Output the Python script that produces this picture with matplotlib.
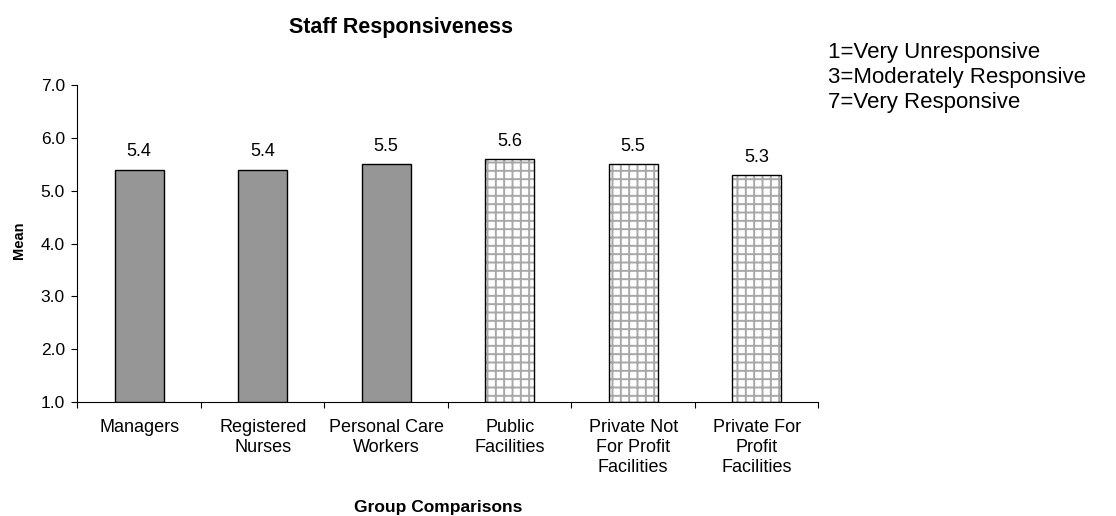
import matplotlib
matplotlib.use("Agg")
import matplotlib.pyplot as plt
import numpy as np

categories = ["Managers", "Registered\nNurses", "Personal Care\nWorkers",
              "Public\nFacilities", "Private Not\nFor Profit\nFacilities",
              "Private For\nProfit\nFacilities"]
values = [5.4, 5.4, 5.5, 5.6, 5.5, 5.3]
hatched = [False, False, False, True, True, True]
y_ticks = [1.0, 2.0, 3.0, 4.0, 5.0, 6.0, 7.0]
legend_lines = ["1=Very Unresponsive", "3=Moderately Responsive", "7=Very Responsive"]

plt.rcParams['font.family'] = ['Liberation Sans', 'DejaVu Sans']
plt.rcParams['hatch.linewidth'] = 1.4

fig = plt.figure(figsize=(11.16, 5.16), dpi=100)
ax = fig.add_axes([0.0694, 0.221, 0.664, 0.614])

x = np.arange(len(categories))
base = y_ticks[0]
w = 0.40
for xi, v, h in zip(x, values, hatched):
    if h:
        ax.bar(xi, v - base, bottom=base, width=w, color="white",
               edgecolor="#a8a8a8", hatch="++", linewidth=0, zorder=2)
        ax.bar(xi, v - base, bottom=base, width=w, fill=False,
               edgecolor="black", linewidth=1.0, zorder=3)
    else:
        ax.bar(xi, v - base, bottom=base, width=w, color="#969696",
               edgecolor="black", linewidth=1.0, zorder=3)
    ax.text(xi, v + 0.25, f"{v:.1f}", ha="center", va="baseline", fontsize=13)

ax.set_xlim(-0.5, len(categories) - 0.5)
ax.set_ylim(y_ticks[0], y_ticks[-1])
ax.set_yticks(y_ticks)
ax.set_yticklabels([f"{t:.1f}" for t in y_ticks], fontsize=12.5)
ax.set_xticks(np.arange(len(categories) + 1) - 0.5)
ax.set_xticklabels([])
ax.set_xticks(x, minor=True)
ax.set_xticklabels(categories, minor=True, fontsize=13, linespacing=1.25)
ax.tick_params(axis="x", which="minor", length=0, pad=12)
ax.tick_params(axis="x", which="major", length=4, direction="out")
ax.tick_params(axis="y", length=4, direction="out", pad=5)
for s in ["top", "right"]:
    ax.spines[s].set_visible(False)

fig.text(0.359, 0.947, "Staff Responsiveness", ha="center", va="center",
         fontsize=15.5, fontweight="bold")
fig.text(0.393, 0.016, "Group Comparisons", ha="center", va="center",
         fontsize=12.5, fontweight="bold")
fig.text(0.0166, 0.535, "Mean", ha="center", va="center", rotation=90,
         fontsize=10.5, fontweight="bold")
fig.text(0.742, 0.919, "\n".join(legend_lines), ha="left", va="top",
         fontsize=16, linespacing=1.25)

fig.savefig("out.png", dpi=100)
